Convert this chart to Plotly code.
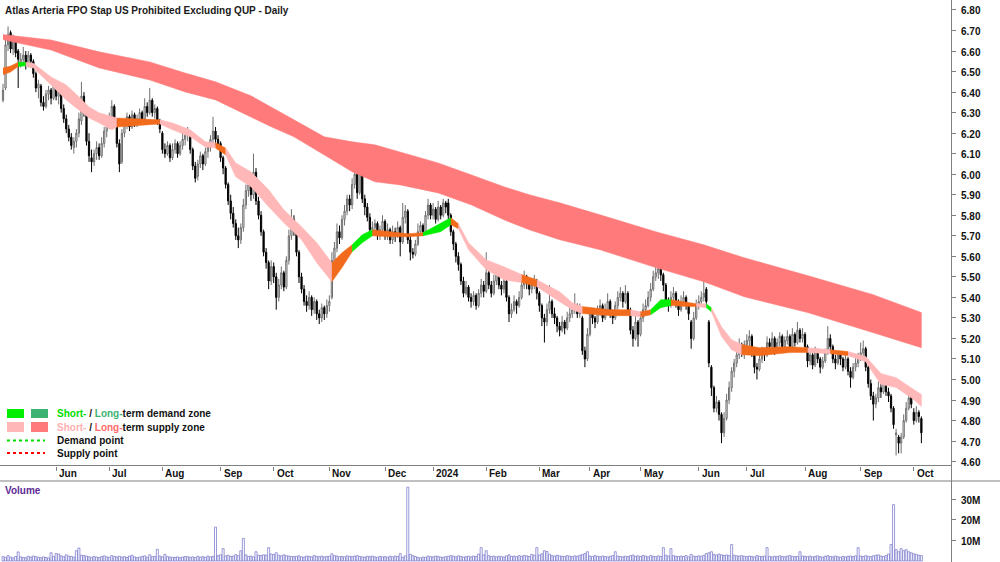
import plotly.graph_objects as go
import pandas as pd

# ---------------- data ----------------
holidays = ["2023-06-12", "2023-12-25", "2023-12-26", "2024-01-01", "2024-01-26",
            "2024-03-29", "2024-04-01", "2024-04-25", "2024-06-10"]
dates = [d for d in pd.bdate_range("2023-05-03", "2024-10-04")
         if d.strftime("%Y-%m-%d") not in holidays]

month_labels = ["Jun", "Jul", "Aug", "Sep", "Oct", "Nov", "Dec", "2024", "Feb", "Mar",
                "Apr", "May", "Jun", "Jul", "Aug", "Sep", "Oct"]

opens = [
    6.36,6.42,6.63,6.69,6.61,6.66,6.60,6.53,6.56,6.58,6.53,6.58,6.55,6.49,6.42,6.43,6.35,6.33,6.39,6.41,6.37,
    6.43,6.38,6.39,6.32,6.27,6.22,6.18,6.13,6.16,6.20,6.26,6.38,6.30,6.16,6.08,6.06,6.10,6.13,6.09,6.15,6.21,
    6.25,6.28,6.33,6.26,6.15,6.06,6.20,6.25,6.28,6.23,6.29,6.25,6.27,6.30,6.27,6.33,6.30,6.36,6.30,6.32,6.26,
    6.20,6.12,6.10,6.14,6.08,6.12,6.15,6.10,6.14,6.17,6.19,6.20,6.12,6.04,5.99,6.05,6.09,6.05,6.11,6.13,6.17,6.21,6.17,
    6.15,6.08,6.03,5.95,5.87,5.81,5.76,5.70,5.68,5.74,5.85,5.92,5.95,5.90,6.01,5.87,5.80,5.72,5.62,5.57,5.48,
    5.55,5.50,5.40,5.46,5.52,5.45,5.58,5.70,5.78,5.72,5.62,5.50,5.44,5.38,5.36,5.40,5.34,5.38,5.32,5.30,5.35,5.32,
    5.36,5.40,5.58,5.64,5.72,5.69,5.78,5.82,5.88,5.85,5.95,6.00,5.91,6.02,5.88,5.84,5.79,5.73,5.74,5.76,5.70,5.73,
    5.77,5.70,5.73,5.68,5.72,5.70,5.74,5.67,5.79,5.82,5.68,5.62,5.61,5.66,5.72,5.75,5.72,5.80,5.85,
    5.80,5.83,5.78,5.84,5.80,5.86,5.86,5.80,5.72,5.66,5.60,5.56,5.48,5.42,5.45,5.40,5.38,5.41,5.36,5.42,5.46,
    5.43,5.52,5.46,5.42,5.48,5.52,5.46,5.44,5.48,5.40,5.32,5.34,5.38,5.36,5.40,5.46,5.50,5.48,5.44,5.46,5.48,
    5.42,5.36,5.30,5.28,5.34,5.38,5.32,5.30,5.26,5.24,5.28,5.25,5.30,5.32,5.34,5.36,5.32,5.30,5.14,5.10,
    5.22,5.32,5.30,5.28,5.33,5.36,5.30,5.34,5.38,5.32,5.30,5.36,5.40,5.42,5.38,5.42,5.34,5.24,5.20,5.28,
    5.22,5.30,5.34,5.36,5.40,5.44,5.50,5.52,5.54,5.51,5.46,5.38,5.36,5.40,5.42,5.38,5.34,5.38,5.40,5.36,5.28,5.20,5.30,
    5.36,5.38,5.40,5.44,5.28,5.06,4.96,4.86,4.89,4.83,4.74,4.81,4.90,4.96,5.04,5.08,5.12,5.16,5.14,
    5.17,5.19,5.21,5.13,5.06,5.05,5.10,5.14,5.12,5.18,5.16,5.20,5.14,5.18,5.21,5.16,5.19,5.21,5.16,5.22,5.18,5.24,5.20,
    5.22,5.16,5.09,5.12,5.07,5.14,5.10,5.06,5.09,5.13,5.20,5.16,5.10,5.08,5.12,5.10,5.06,5.10,5.04,5.01,5.06,5.08,
    5.11,5.13,5.15,5.06,4.98,4.92,4.88,4.91,4.96,4.94,5.00,4.94,4.92,4.86,4.73,4.72,4.69,4.72,4.80,4.86,4.93,
    4.84,4.80,4.84,4.81,
]
highs = [
    6.44,6.66,6.72,6.70,6.68,6.67,6.61,6.59,6.62,6.60,6.60,6.59,6.56,6.50,6.46,6.44,6.38,6.41,6.43,6.42,6.45,
    6.45,6.42,6.40,6.34,6.29,6.24,6.20,6.18,6.22,6.30,6.45,6.40,6.31,6.20,6.12,6.12,6.16,6.15,6.18,6.23,6.27,
    6.30,6.36,6.34,6.27,6.17,6.22,6.27,6.30,6.29,6.31,6.30,6.29,6.32,6.31,6.37,6.35,6.42,6.37,6.34,6.33,6.27,
    6.21,6.15,6.16,6.15,6.15,6.17,6.16,6.16,6.20,6.21,6.23,6.21,6.13,6.06,6.07,6.11,6.10,6.13,6.15,6.19,6.28,6.23,6.19,
    6.16,6.09,6.04,5.96,5.90,5.84,5.78,5.74,5.76,5.88,5.95,5.98,5.96,6.10,6.03,5.89,5.82,5.73,5.64,5.58,5.58,
    5.57,5.52,5.49,5.55,5.53,5.60,5.73,5.83,5.80,5.73,5.63,5.52,5.46,5.41,5.43,5.41,5.40,5.39,5.34,5.37,5.36,5.39,
    5.41,5.62,5.67,5.76,5.75,5.80,5.85,5.90,5.90,5.98,6.07,6.02,6.07,6.04,5.90,5.86,5.81,5.77,5.78,5.77,5.75,5.80,
    5.78,5.76,5.74,5.75,5.74,5.77,5.75,5.86,5.85,5.83,5.70,5.64,5.68,5.76,5.77,5.76,5.82,5.88,5.86,
    5.86,5.84,5.87,5.85,5.88,5.87,5.88,5.81,5.73,5.67,5.62,5.57,5.50,5.48,5.46,5.42,5.43,5.42,5.44,5.49,5.48,
    5.62,5.53,5.48,5.51,5.55,5.53,5.48,5.50,5.49,5.41,5.37,5.41,5.39,5.43,5.48,5.53,5.51,5.49,5.49,5.51,5.49,
    5.43,5.37,5.32,5.37,5.46,5.39,5.35,5.31,5.28,5.31,5.29,5.33,5.35,5.37,5.42,5.37,5.37,5.31,5.16,5.25,
    5.34,5.34,5.31,5.36,5.39,5.37,5.37,5.42,5.39,5.34,5.38,5.43,5.45,5.43,5.46,5.43,5.35,5.26,5.31,5.29,
    5.33,5.37,5.39,5.43,5.47,5.53,5.56,5.56,5.55,5.52,5.47,5.40,5.43,5.45,5.43,5.39,5.41,5.43,5.41,5.37,5.29,5.33,5.39,
    5.41,5.43,5.48,5.45,5.29,5.07,4.97,4.92,4.90,4.84,4.84,4.93,4.99,5.06,5.10,5.15,5.20,5.18,5.19,
    5.22,5.24,5.22,5.14,5.08,5.12,5.16,5.15,5.21,5.20,5.23,5.21,5.20,5.23,5.22,5.21,5.24,5.22,5.25,5.23,5.28,5.25,5.25,
    5.23,5.17,5.15,5.13,5.16,5.15,5.11,5.11,5.15,5.26,5.22,5.17,5.12,5.14,5.13,5.11,5.12,5.11,5.06,5.08,5.11,5.13,
    5.18,5.19,5.16,5.07,5.00,4.94,4.93,4.99,4.98,5.02,5.01,4.96,4.93,4.87,4.76,4.73,4.74,4.83,4.89,4.93,4.94,
    4.86,4.87,4.85,4.82,
]
lows = [
    6.35,6.41,6.60,6.59,6.58,6.57,6.42,6.52,6.54,6.51,6.52,6.52,6.47,6.40,6.37,6.33,6.31,6.32,6.36,6.34,6.36,
    6.36,6.34,6.30,6.25,6.20,6.16,6.12,6.10,6.13,6.18,6.24,6.28,6.14,6.06,6.01,6.04,6.07,6.07,6.08,6.13,6.18,
    6.22,6.25,6.24,6.13,6.01,6.05,6.18,6.22,6.21,6.22,6.23,6.23,6.25,6.25,6.26,6.28,6.29,6.28,6.27,6.24,6.20,
    6.10,6.08,6.09,6.06,6.07,6.10,6.08,6.09,6.12,6.14,6.16,6.10,6.02,5.96,5.97,6.03,6.02,6.04,6.08,6.11,6.15,6.14,6.12,
    6.06,6.00,5.93,5.85,5.78,5.74,5.68,5.64,5.66,5.72,5.83,5.89,5.87,5.88,5.85,5.78,5.70,5.60,5.54,5.44,5.46,
    5.47,5.34,5.38,5.44,5.43,5.44,5.56,5.68,5.70,5.60,5.47,5.42,5.36,5.33,5.34,5.31,5.32,5.29,5.27,5.28,5.29,5.30,
    5.33,5.39,5.55,5.62,5.66,5.68,5.75,5.80,5.82,5.83,5.93,5.88,5.90,5.86,5.80,5.77,5.71,5.70,5.71,5.68,5.68,5.71,
    5.68,5.68,5.66,5.66,5.67,5.69,5.60,5.66,5.76,5.66,5.58,5.59,5.60,5.65,5.70,5.70,5.71,5.78,5.78,
    5.78,5.76,5.77,5.78,5.79,5.81,5.78,5.70,5.63,5.57,5.53,5.46,5.40,5.41,5.38,5.35,5.36,5.34,5.35,5.40,5.40,
    5.42,5.44,5.40,5.41,5.46,5.44,5.41,5.42,5.38,5.28,5.30,5.33,5.32,5.35,5.39,5.44,5.44,5.41,5.42,5.44,5.39,
    5.33,5.26,5.18,5.26,5.32,5.30,5.27,5.23,5.21,5.23,5.22,5.24,5.28,5.30,5.32,5.30,5.30,5.12,5.06,5.09,
    5.21,5.27,5.25,5.27,5.31,5.28,5.29,5.32,5.30,5.27,5.29,5.34,5.38,5.35,5.37,5.32,5.22,5.16,5.19,5.16,
    5.21,5.28,5.32,5.35,5.38,5.43,5.48,5.49,5.48,5.43,5.36,5.33,5.35,5.38,5.35,5.31,5.33,5.36,5.34,5.29,5.15,5.19,5.29,
    5.34,5.36,5.38,5.36,5.06,4.92,4.84,4.84,4.80,4.69,4.72,4.80,4.88,4.94,5.01,5.06,5.10,5.11,5.10,
    5.14,5.16,5.11,5.03,5.00,5.04,5.08,5.09,5.11,5.13,5.15,5.12,5.13,5.16,5.14,5.15,5.17,5.14,5.15,5.16,5.17,5.18,5.18,
    5.14,5.06,5.07,5.05,5.06,5.08,5.03,5.05,5.08,5.12,5.14,5.08,5.05,5.07,5.07,5.04,5.05,5.02,4.96,5.00,5.04,5.06,
    5.09,5.11,5.04,4.96,4.90,4.80,4.86,4.89,4.91,4.93,4.92,4.89,4.84,4.76,4.63,4.64,4.64,4.71,4.79,4.85,4.86,
    4.78,4.79,4.79,4.69,
]
closes = [
    6.41,6.63,6.68,6.61,6.66,6.59,6.56,6.56,6.58,6.53,6.58,6.55,6.49,6.42,6.44,6.35,6.33,6.39,6.41,6.37,6.43,
    6.38,6.40,6.32,6.27,6.22,6.18,6.14,6.16,6.20,6.27,6.38,6.30,6.16,6.09,6.06,6.10,6.13,6.09,6.15,6.21,6.25,
    6.28,6.33,6.26,6.15,6.05,6.20,6.25,6.28,6.23,6.29,6.25,6.27,6.30,6.27,6.33,6.30,6.36,6.30,6.32,6.26,6.22,
    6.12,6.10,6.14,6.08,6.12,6.15,6.10,6.14,6.17,6.19,6.20,6.12,6.04,5.98,6.05,6.09,6.05,6.11,6.13,6.17,6.21,6.17,6.15,
    6.08,6.03,5.95,5.87,5.81,5.76,5.70,5.68,5.74,5.85,5.92,5.95,5.90,6.01,5.87,5.80,5.72,5.62,5.57,5.48,5.55,
    5.50,5.40,5.46,5.52,5.45,5.58,5.70,5.78,5.72,5.62,5.50,5.44,5.38,5.36,5.40,5.34,5.38,5.32,5.30,5.35,5.32,5.36,
    5.38,5.58,5.64,5.72,5.69,5.78,5.82,5.88,5.85,5.95,6.00,5.91,6.02,5.88,5.84,5.79,5.73,5.74,5.76,5.70,5.73,5.77,
    5.70,5.73,5.68,5.72,5.70,5.74,5.67,5.79,5.82,5.68,5.62,5.61,5.66,5.72,5.75,5.72,5.80,5.85,5.80,
    5.83,5.78,5.84,5.80,5.86,5.84,5.80,5.72,5.66,5.60,5.56,5.48,5.42,5.45,5.40,5.38,5.41,5.36,5.42,5.46,5.43,
    5.52,5.46,5.42,5.48,5.52,5.46,5.44,5.48,5.40,5.32,5.34,5.38,5.36,5.40,5.46,5.50,5.48,5.44,5.46,5.48,5.42,
    5.36,5.30,5.28,5.34,5.38,5.32,5.30,5.26,5.24,5.28,5.25,5.30,5.32,5.34,5.36,5.32,5.34,5.14,5.10,5.22,
    5.32,5.30,5.28,5.33,5.36,5.30,5.34,5.38,5.32,5.30,5.36,5.40,5.42,5.38,5.42,5.34,5.24,5.20,5.28,5.22,
    5.30,5.34,5.36,5.40,5.44,5.50,5.52,5.54,5.51,5.46,5.38,5.36,5.40,5.42,5.38,5.34,5.38,5.40,5.36,5.32,5.20,5.30,5.36,
    5.38,5.40,5.42,5.38,5.08,4.96,4.86,4.89,4.83,4.74,4.81,4.90,4.96,5.04,5.08,5.12,5.16,5.14,5.17,
    5.19,5.21,5.13,5.06,5.05,5.10,5.14,5.12,5.18,5.16,5.20,5.14,5.18,5.21,5.16,5.19,5.21,5.16,5.22,5.18,5.24,5.20,5.22,
    5.16,5.09,5.12,5.07,5.14,5.10,5.06,5.09,5.13,5.20,5.16,5.10,5.08,5.12,5.10,5.06,5.10,5.04,5.01,5.06,5.08,5.11,
    5.13,5.15,5.06,4.98,4.92,4.88,4.91,4.96,4.94,5.00,4.94,4.92,4.86,4.78,4.74,4.69,4.72,4.80,4.86,4.91,4.88,
    4.80,4.84,4.82,4.74,
]
volume_m = [
    2.1,1.8,2.6,1.9,1.5,2.2,4.4,2.0,1.7,1.6,2.3,1.9,2.4,2.1,1.8,1.6,2.0,1.7,1.5,4.0,2.2,
    3.6,3.4,2.5,2.1,3.0,2.4,2.2,1.9,5.0,6.3,2.8,2.6,2.4,2.0,1.8,2.2,1.9,1.7,2.1,2.5,2.0,
    1.8,2.6,2.2,2.0,2.3,1.9,2.1,1.7,2.4,2.8,2.0,1.6,1.9,2.2,2.5,1.8,3.0,2.1,2.2,5.7,2.4,
    2.0,3.2,2.1,1.9,1.8,1.7,2.0,1.6,1.9,2.2,2.1,1.8,2.0,1.7,2.3,1.9,2.1,1.8,2.4,2.0,2.2,16.5,2.6,
    3.0,6.0,2.5,2.8,2.2,2.4,3.1,2.6,5.0,11.0,3.0,2.2,2.4,2.0,4.5,2.8,2.6,3.0,2.9,6.5,3.4,
    3.2,4.0,2.8,2.5,3.0,2.6,2.4,2.2,2.1,2.3,2.5,2.0,1.9,2.4,2.2,2.0,2.6,2.3,2.1,2.4,2.0,2.2,
    2.3,3.5,2.6,2.4,2.1,2.2,2.0,2.5,2.3,2.1,2.4,2.6,2.2,2.0,1.9,2.3,2.1,2.4,2.0,1.8,2.2,2.0,
    2.1,1.9,2.3,2.0,2.4,2.2,3.6,1.8,2.5,36.0,3.2,2.6,2.2,1.7,1.5,1.9,1.8,2.4,2.1,
    2.0,2.4,2.2,1.9,1.8,2.1,2.3,2.6,2.4,2.0,2.5,2.2,1.9,2.1,2.3,2.0,2.4,2.2,3.4,6.5,3.0,
    5.0,2.6,2.2,2.4,2.0,2.3,2.1,1.9,2.5,3.0,2.2,2.4,2.1,2.6,2.3,2.7,2.5,2.2,3.2,2.8,6.5,
    2.9,3.5,5.0,4.6,3.3,2.6,2.4,2.8,2.5,2.3,2.2,2.6,2.4,2.1,2.5,2.3,2.8,3.1,3.6,4.5,
    2.4,2.2,2.6,2.3,2.1,2.4,2.2,2.0,2.3,2.6,4.5,2.4,2.2,2.0,2.3,2.1,2.6,2.9,2.3,2.5,
    2.2,2.7,2.4,2.0,2.6,2.3,2.1,2.5,2.2,6.5,2.8,2.4,6.0,2.6,2.3,2.1,2.4,2.2,2.6,2.0,3.2,2.4,2.2,
    2.5,2.3,2.8,3.6,4.0,4.5,3.2,2.9,3.4,3.0,2.7,2.9,2.6,8.0,2.8,2.5,2.4,2.6,2.3,
    2.1,2.4,2.2,2.0,2.6,2.3,2.1,2.4,6.5,2.2,2.0,2.3,2.1,2.5,2.2,2.0,2.4,2.6,2.3,2.1,2.2,4.5,2.4,
    2.3,2.1,2.4,2.0,2.2,2.5,2.1,1.9,2.3,2.6,2.2,2.0,2.4,2.1,1.8,2.2,2.0,2.3,2.4,2.1,2.5,6.5,
    2.4,2.2,2.6,2.3,2.1,2.5,2.8,3.0,2.4,2.2,2.6,3.4,8.0,27.5,5.5,4.5,6.0,5.0,5.5,4.5,4.0,
    3.5,3.2,2.8,2.6,
]

# long-term supply band (bar index, upper, lower)
long_idx = [0, 19, 38, 58, 72, 84, 98, 106, 115, 127, 138, 147, 157, 172, 185, 198, 208, 220,
            236, 258, 277, 293, 318, 344, 363]
long_up = [6.68, 6.654, 6.596, 6.547, 6.493, 6.450, 6.382, 6.328, 6.265, 6.182, 6.158, 6.143,
           6.109, 6.055, 5.997, 5.939, 5.900, 5.861, 5.802, 5.720, 5.656, 5.593, 5.506, 5.413, 5.326]
long_lo = [6.655, 6.605, 6.518, 6.459, 6.401, 6.362, 6.279, 6.231, 6.182, 6.094, 6.012, 5.963,
           5.948, 5.909, 5.851, 5.778, 5.729, 5.681, 5.632, 5.545, 5.476, 5.403, 5.326, 5.228, 5.155]

# short-term band (bar index, upper, lower, zone state of the segment that starts here)
short_idx = [0, 3, 6, 9, 12, 19, 25, 30, 34, 38, 43, 45, 52, 62, 67, 74, 80, 84, 88, 92, 98, 105,
             111, 118, 124, 130, 134, 138, 142, 146, 153, 160, 166, 173, 177, 180, 184, 191, 198,
             205, 211, 220, 225, 229, 240, 248, 252, 256, 260, 264, 271, 274, 278, 280, 284, 288,
             292, 299, 311, 318, 327, 334, 341, 347, 353, 360, 363]
short_up = [6.518, 6.527, 6.545, 6.545, 6.540, 6.474, 6.435, 6.377, 6.328, 6.299, 6.279, 6.274,
            6.270, 6.265, 6.250, 6.216, 6.158, 6.153, 6.128, 6.055, 6.012, 5.924, 5.827, 5.744,
            5.666, 5.569, 5.618, 5.656, 5.705, 5.730, 5.720, 5.710, 5.715, 5.764, 5.788, 5.759,
            5.666, 5.583, 5.549, 5.511, 5.486, 5.428, 5.374, 5.355, 5.340, 5.340, 5.330, 5.340,
            5.389, 5.389, 5.374, 5.369, 5.369, 5.350, 5.257, 5.194, 5.170, 5.155, 5.160, 5.155,
            5.145, 5.136, 5.112, 5.029, 5.009, 4.951, 4.927]
short_lo = [6.484, 6.498, 6.525, 6.528, 6.518, 6.435, 6.362, 6.313, 6.274, 6.250, 6.216, 6.230,
            6.236, 6.245, 6.216, 6.182, 6.133, 6.128, 6.094, 5.987, 5.939, 5.841, 5.764, 5.681,
            5.569, 5.476, 5.545, 5.622, 5.666, 5.700, 5.695, 5.695, 5.700, 5.720, 5.754, 5.734,
            5.632, 5.535, 5.486, 5.472, 5.452, 5.379, 5.340, 5.321, 5.311, 5.311, 5.305, 5.315,
            5.350, 5.360, 5.355, 5.355, 5.350, 5.330, 5.209, 5.145, 5.121, 5.116, 5.131, 5.131,
            5.126, 5.116, 5.087, 4.975, 4.961, 4.902, 4.868]
short_state = ["O", "O", "G", "P", "P", "P", "P", "P", "P", "P", "P", "O", "O", "P", "P", "P", "P",
               "O", "P", "P", "P", "P", "P", "P", "P", "O", "O", "G", "G", "O", "O", "O", "G", "G",
               "O", "P", "P", "P", "P", "O", "P", "P", "P", "O", "O", "P", "O", "G", "G", "O", "O",
               "P", "G", "P", "P", "P", "O", "O", "O", "P", "O", "P", "P", "P", "P", "P", "P"]

# ---------------- styling ----------------
W, H = 1000, 562
PLOT_W = 951
FONT = "Liberation Sans, Arial, sans-serif"
C_LONG_SUP = "#FF7B7B"
C_SHORT_SUP = "#FFB7B7"
C_ORANGE = "#F26A1B"
C_GREEN = "#00EE00"
C_LONG_DEM = "#3CB371"
state_color = {"P": C_SHORT_SUP, "O": C_ORANGE, "G": C_GREEN}

def px(x):
    return x / PLOT_W

def py(y):
    return 1 - y / H

n = len(closes)
idx = list(range(n))

fig = go.Figure()

# long-term band
fig.add_trace(go.Scatter(
    x=long_idx + long_idx[::-1], y=long_up + long_lo[::-1],
    fill="toself", fillcolor=C_LONG_SUP, mode="lines",
    line=dict(color=C_LONG_SUP, width=0.5), hoverinfo="skip", showlegend=False))

# short-term band split into coloured zones
k = 0
while k < len(short_idx) - 1:
    s = short_state[k]
    j = k
    while j + 1 < len(short_idx) - 1 and short_state[j + 1] == s:
        j += 1
    seg = slice(k, j + 2)
    xs = short_idx[seg]
    fig.add_trace(go.Scatter(
        x=xs + xs[::-1], y=short_up[seg] + short_lo[seg][::-1],
        fill="toself", fillcolor=state_color[s], mode="lines",
        line=dict(color=state_color[s], width=0.5), hoverinfo="skip", showlegend=False))
    k = j + 1

# candles
fig.add_trace(go.Candlestick(
    x=idx, open=opens, high=highs, low=lows, close=closes,
    increasing=dict(line=dict(color="#6E6E6E", width=1), fillcolor="white"),
    decreasing=dict(line=dict(color="black", width=1), fillcolor="black"),
    whiskerwidth=0, showlegend=False, xaxis="x", yaxis="y"))

# volume
fig.add_trace(go.Bar(
    x=idx, y=volume_m, xaxis="x2", yaxis="y2",
    marker=dict(color="white", line=dict(color="#7070C8", width=0.7)),
    showlegend=False, hoverinfo="skip"))

# month ticks (first trading day of each month after the first)
tick_idx = []
prev = (dates[0].year, dates[0].month)
for i, d in enumerate(dates):
    if (d.year, d.month) != prev:
        tick_idx.append(i)
        prev = (d.year, d.month)

x_lo = -3 / 2.53
x_hi = x_lo + PLOT_W / 2.53

annotations = []
for i, lab in zip(tick_idx, month_labels):
    annotations.append(dict(
        x=i, xref="x", y=py(474), yref="paper", text=lab, showarrow=False,
        xanchor="left", yanchor="middle", xshift=1,
        font=dict(family=FONT, size=10, color="#111", weight="bold")))

annotations.append(dict(
    x=px(3), xref="paper", y=py(10), yref="paper",
    text="Atlas Arteria FPO Stap US Prohibited Excluding QUP - Daily",
    showarrow=False, xanchor="left", yanchor="middle",
    font=dict(family=FONT, size=10, color="#1a1a1a", weight="bold")))
annotations.append(dict(
    x=px(3), xref="paper", y=py(490), yref="paper", text="Volume",
    showarrow=False, xanchor="left", yanchor="middle",
    font=dict(family=FONT, size=10, color="#5E2A96", weight="bold")))

legend_rows = [
    (413.5, '<span style="color:#00DD00">Short-</span> / <span style="color:#3CB371">Long-</span>term demand zone'),
    (427, '<span style="color:#FFAFAF">Short-</span> / <span style="color:#FF6B6B">Long-</span>term supply zone'),
    (440.5, "Demand point"),
    (453, "Supply point"),
]
for y, t in legend_rows:
    annotations.append(dict(
        x=px(55), xref="paper", y=py(y), yref="paper", text=t, showarrow=False,
        xanchor="left", yanchor="middle",
        font=dict(family=FONT, size=10, color="#111", weight="bold")))

shapes = []
def rect(x0, y0, x1, y1, color):
    shapes.append(dict(type="rect", xref="paper", yref="paper", x0=px(x0), x1=px(x1),
                       y0=py(y1), y1=py(y0), fillcolor=color, line=dict(width=0), layer="above"))

def hline(x0, x1, y, color="#7A7A7A", width=1, dash="solid"):
    shapes.append(dict(type="line", xref="paper", yref="paper", x0=px(x0), x1=px(x1),
                       y0=py(y), y1=py(y), line=dict(color=color, width=width, dash=dash), layer="above"))

rect(7, 409, 24, 418, C_GREEN)
rect(31, 409, 48, 418, C_LONG_DEM)
rect(7, 422, 24, 432, C_SHORT_SUP)
rect(31, 422, 48, 432, C_LONG_SUP)
hline(7, 45, 440.5, "#00DD00", 2, "dot")
hline(7, 45, 453, "#FF0000", 2, "dot")

# frame lines
hline(0, PLOT_W, 465.5, "#808080", 1)
hline(0, W, 481, "#808080", 1)
shapes.append(dict(type="line", xref="paper", yref="paper", x0=px(951.5), x1=px(951.5),
                   y0=0, y1=1, line=dict(color="#808080", width=1), layer="above"))

price_top = 6.80 + 10 / 205.5
price_bot = 6.80 - 456 / 205.5
price_ticks = [4.6 + 0.1 * t for t in range(23)]

fig.update_layout(
    width=W, height=H,
    margin=dict(l=0, r=W - PLOT_W, t=0, b=0, autoexpand=False),
    paper_bgcolor="white", plot_bgcolor="white",
    showlegend=False,
    font=dict(family=FONT, size=10, color="#111"),
    xaxis=dict(domain=[0, 1], range=[x_lo, x_hi], anchor="y", showgrid=False, zeroline=False,
               showline=False, rangeslider=dict(visible=False), showticklabels=False,
               tickmode="array", tickvals=tick_idx, ticks="outside", ticklen=4,
               tickcolor="#808080", tickwidth=1, automargin=False),
    yaxis=dict(domain=[py(465.5), 1], range=[price_bot, price_top], side="right",
               showgrid=False, zeroline=False, showline=False, automargin=False,
               tickmode="array", tickvals=price_ticks,
               ticktext=[f"{v:.2f}" for v in price_ticks],
               ticks="outside", ticklen=4, tickcolor="#808080",
               ticklabelshift=1, ticklabelstandoff=3,
               tickfont=dict(family=FONT, size=10, color="#111", weight="bold")),
    xaxis2=dict(domain=[0, 1], matches="x", anchor="y2", showgrid=False, zeroline=False,
                showline=False, showticklabels=False, ticks="", automargin=False),
    yaxis2=dict(domain=[0, py(481)], range=[-0.5, 39.0], side="right", anchor="x2",
                showgrid=False, zeroline=False, showline=False, automargin=False,
                tickmode="array", tickvals=[10, 20, 30], ticktext=["10M", "20M", "30M"],
                ticks="outside", ticklen=4, tickcolor="#808080",
                ticklabelshift=1, ticklabelstandoff=3,
                tickfont=dict(family=FONT, size=10, color="#111", weight="bold")),
    bargap=0.2,
    annotations=annotations,
    shapes=shapes,
)

fig.write_html("out.html")
